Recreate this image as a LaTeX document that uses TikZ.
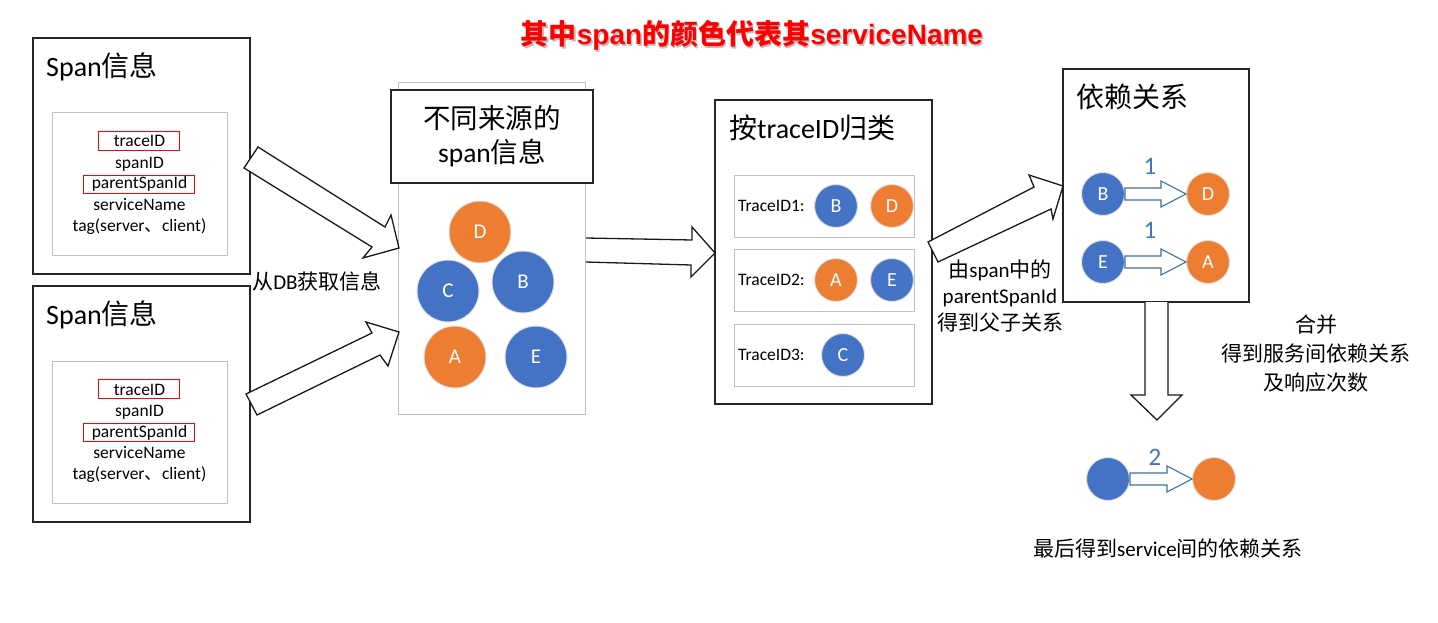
\documentclass[tikz,border=0pt]{standalone}
\usepackage{fontspec}
\setmainfont{Carlito}
\newfontfamily\zhf{Noto Sans CJK SC}
\newfontfamily\arf{Liberation Sans}
\usetikzlibrary{calc}
\definecolor{cblue}{HTML}{4472C4}
\definecolor{corange}{HTML}{ED7D31}
\definecolor{arrblue}{HTML}{41719C}
\begin{document}
\begin{tikzpicture}[x=1pt,y=-1pt,
  box/.style={draw=black!85, line width=1.4pt, fill=white, inner sep=0pt, outer sep=0pt, anchor=north west},
  graybox/.style={draw=black!25, line width=1pt, fill=white, inner sep=0pt, outer sep=0pt, anchor=north west},
  redbox/.style={draw=red, line width=0.9pt, inner sep=0pt, outer sep=0pt},
  blk/.style={draw=black!90, fill=white, line width=1.3pt, line join=miter},
  sarrow/.style={draw=arrblue, fill=white, line width=1.1pt, line join=miter},
  bigc/.style={circle, draw=black!12, line width=1pt, minimum size=62pt, inner sep=0pt, text=white, font=\fontsize{21}{21}\selectfont},
  smc/.style={circle, draw=black!12, line width=1pt, minimum size=43pt, inner sep=0pt, text=white, font=\fontsize{20}{20}\selectfont},
  head/.style={inner sep=0pt, anchor=west, font=\fontsize{28}{34}\selectfont},
  body/.style={inner sep=0pt, align=center, font=\fontsize{21}{27}\selectfont},
  fld/.style={inner sep=0pt, anchor=base, font=\fontsize{17.5}{21}\selectfont},
  tid/.style={inner sep=0pt, anchor=west, font=\fontsize{17.5}{20}\selectfont},
  num/.style={inner sep=0pt, text=cblue, font=\fontsize{25}{25}\selectfont}
]
\useasboundingbox[fill=white] (0,0) rectangle (1438,623);

% title
\node[inner sep=0pt, text=black!25, font=\fontsize{28}{28}\selectfont] (titleshadow) at (753.5,37.5)
  {{\zhf\bfseries 其中}{\arf\bfseries span}{\zhf\bfseries 的颜色代表其}{\arf\bfseries serviceName}};
\node[inner sep=0pt, text=red, font=\fontsize{28}{28}\selectfont] (title) at (752,35)
  {{\zhf\bfseries 其中}{\arf\bfseries span}{\zhf\bfseries 的颜色代表其}{\arf\bfseries serviceName}};

% span info boxes
\foreach \i/\dy in {1/0, 2/248} {
  \node[box, minimum width=217pt, minimum height=236pt] (s\i) at (33,38+\dy) {};
  \node[head] (s\i h) at (46,67+\dy) {Span{\zhf 信息}};
  \node[graybox, minimum width=175pt, minimum height=142pt] (s\i i) at (52,113+\dy) {};
  \node[redbox, minimum width=81pt, minimum height=19pt] (s\i r1) at (138.5,140.5+\dy) {};
  \node[redbox, minimum width=111pt, minimum height=18pt] (s\i r2) at (138.5,184+\dy) {};
  \node[fld] (s\i a) at (139.5,147+\dy) {traceID};
  \node[fld] (s\i b) at (139.5,168+\dy) {spanID};
  \node[fld] (s\i c) at (139.5,189+\dy) {parentSpanId};
  \node[fld] (s\i d) at (139.5,210+\dy) {serviceName};
  \node[fld] (s\i e) at (139.5,231+\dy) {tag(server{\zhf 、}client)};
}

% collection box
\node[graybox, minimum width=187pt, minimum height=331pt] (coll) at (398,83) {};
\node[box, minimum width=202pt, minimum height=93pt] (collh) at (391,90) {};
\node[body, font=\fontsize{27.5}{34}\selectfont] (collt) at (492,136) {{\zhf 不同来源的}\\span{\zhf 信息}};
\node[bigc, fill=corange] (cD) at (480,232) {D};
\node[bigc, fill=cblue] (cC) at (448,291) {C};
\node[bigc, fill=cblue] (cB) at (523,282) {B};
\node[bigc, fill=corange] (cA) at (455,357) {A};
\node[bigc, fill=cblue] (cE) at (536,357) {E};

% trace box
\node[box, minimum width=217pt, minimum height=304pt] (tr) at (715,100) {};
\node[head] (trh) at (729,128) {{\zhf 按}traceID{\zhf 归类}};
\node[graybox, minimum width=180pt, minimum height=61pt] (row1) at (734,176) {};
\node[graybox, minimum width=180pt, minimum height=62pt] (row2) at (734,249) {};
\node[graybox, minimum width=180pt, minimum height=62pt] (row3) at (734,324) {};
\node[tid] (t1) at (738,206) {TraceID1:};
\node[tid] (t2) at (738,280) {TraceID2:};
\node[tid] (t3) at (738,355) {TraceID3:};
\node[smc, fill=cblue] (tB) at (836,206) {B};
\node[smc, fill=corange] (tD) at (892,206) {D};
\node[smc, fill=corange] (tA) at (836,280) {A};
\node[smc, fill=cblue] (tE) at (892,280) {E};
\node[smc, fill=cblue] (tC) at (843,355) {C};

% dependency box
\node[box, minimum width=186pt, minimum height=233pt] (dep) at (1063,69) {};
\node[head] (deph) at (1076,97) {\zhf 依赖关系};
\node[smc, fill=cblue] (dB) at (1103,194) {B};
\node[smc, fill=corange] (dD) at (1208,194) {D};
\node[smc, fill=cblue] (dE) at (1103,262) {E};
\node[smc, fill=corange] (dA) at (1208,262) {A};
\node[num] (n1) at (1150,166) {1};
\node[num] (n2) at (1150,230) {1};

% final
\node[smc, fill=cblue] (fB) at (1108,479) {};
\node[smc, fill=corange] (fO) at (1214,479) {};
\node[num] (n3) at (1155,457) {2};

% small arrows
\foreach \a/\b in {dB/dD, dE/dA, fB/fO} {
  \draw[sarrow] ($(\a.east)+(0,-6)$) -- ($(\b.west)+(-25,-6)$) -- ($(\b.west)+(-25,-13)$) -- (\b.west)
     -- ($(\b.west)+(-25,13)$) -- ($(\b.west)+(-25,6)$) -- ($(\a.east)+(0,6)$) -- cycle;
}

% big block arrows
\draw[blk] (258,147) -- (385,227) -- (391,215) -- (399,248) -- (363,258) -- (372,247) -- (244,168) -- cycle;
\draw[blk] (246,394) -- (372,333) -- (366,322) -- (399,332) -- (388,366) -- (380,355) -- (257,415) -- cycle;
\fill[white] (586,238) -- (692,240) -- (692,227) -- (715,253) -- (691,277) -- (691,265) -- (586,262) -- cycle;
\draw[blk, fill=none] (586,238) -- (692,240) -- (692,227) -- (715,253) -- (691,277) -- (691,265) -- (586,262);
\draw[blk] (928,242) -- (1034,187) -- (1029,175) -- (1063,186) -- (1053,219) -- (1051,209) -- (938,262) -- cycle;
\fill[white] (1145,302) -- (1145,395) -- (1131,395) -- (1157,420) -- (1182,395) -- (1168,395) -- (1168,302) -- cycle;
\draw[blk, fill=none] (1145,302) -- (1145,395) -- (1131,395) -- (1157,420) -- (1182,395) -- (1168,395) -- (1168,302);

% labels
\node[body] (l1) at (317,281) {{\zhf 从}DB{\zhf 获取信息}};
\node[body, font=\fontsize{21}{26.5}\selectfont] (l2) at (1000,296) {{\zhf 由}span{\zhf 中的}\\parentSpanId\\{\zhf 得到父子关系}};
\node[body, font=\fontsize{21}{29}\selectfont] (l3) at (1316,354) {{\zhf 合并}\\{\zhf 得到服务间依赖关系}\\{\zhf 及响应次数}};
\node[body] (l4) at (1168,549) {{\zhf 最后得到}service{\zhf 间的依赖关系}};
\end{tikzpicture}
\end{document}
